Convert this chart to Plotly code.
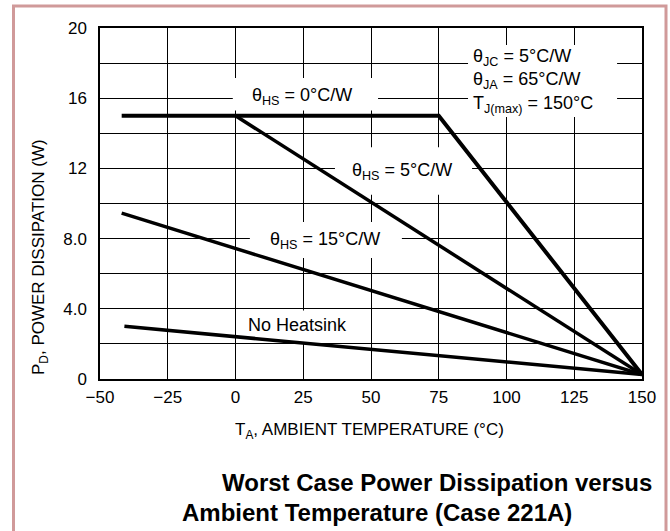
import plotly.graph_objects as go

# ---- data ----
hs0_x = [-42, 75, 150]
hs0_y = [15.0, 15.0, 0.25]
hs5_x = [0, 150]
hs5_y = [15.0, 0.25]
hs15_x = [-42, 150]
hs15_y = [9.45, 0.25]
nohs_x = [-41, 150]
nohs_y = [3.0, 0.25]

x_ticks = [-50, -25, 0, 25, 50, 75, 100, 125, 150]
y_ticks = [0, 4, 8, 12, 16, 20]
y_tick_labels = ["0", "4.0", "8.0", "12", "16", "20"]

FONT = "Liberation Sans, Arial, Helvetica, sans-serif"

fig = go.Figure()
for xs, ys, w in [(hs0_x, hs0_y, 4), (hs5_x, hs5_y, 3.5), (hs15_x, hs15_y, 3.5), (nohs_x, nohs_y, 3.5)]:
    fig.add_trace(go.Scatter(x=xs, y=ys, mode="lines", line=dict(color="black", width=w),
                             showlegend=False, hoverinfo="skip"))

W, H = 670, 531
L, R, T, B = 100, 28, 28, 152

fig.update_layout(
    width=W, height=H,
    margin=dict(l=L, r=R, t=T, b=B),
    paper_bgcolor="white", plot_bgcolor="white",
    font=dict(family=FONT, size=17, color="black"),
    showlegend=False,
)
fig.update_xaxes(range=[-50, 150], tickvals=x_ticks, showgrid=True, gridcolor="black", gridwidth=1,
                 showline=True, linecolor="black", linewidth=1.5, mirror=True, zeroline=False,
                 ticks="", ticklabelstandoff=2, tickfont=dict(size=17, family=FONT))
fig.update_yaxes(range=[0, 20], tickvals=y_ticks, ticktext=y_tick_labels, showgrid=True,
                 gridcolor="black", gridwidth=1,
                 minor=dict(dtick=2, tick0=0, showgrid=True, gridcolor="black", gridwidth=1),
                 showline=True, linecolor="black", linewidth=1.5, mirror=True, zeroline=False,
                 ticks="", ticklabelstandoff=8, tickfont=dict(size=17, family=FONT))

def lab(text, x, y, box, align="center", xanchor="center"):
    x0, x1, y0, y1 = box
    fig.add_shape(type="rect", xref="x", yref="y", x0=x0, x1=x1, y0=y0, y1=y1,
                  fillcolor="white", line=dict(width=0), layer="between")
    fig.add_annotation(x=x, y=y, xref="x", yref="y", text=text, showarrow=False,
                       align=align, xanchor=xanchor, yanchor="middle",
                       font=dict(family=FONT, size=18, color="black"))

lab("θ<sub>HS</sub> = 0°C/W", 24.5, 16.1, (-1, 52.6, 15.3, 17.15))
lab("θ<sub>HS</sub> = 5°C/W", 61.5, 11.8, (36.7, 87.3, 10.5, 13.2))
lab("θ<sub>HS</sub> = 15°C/W", 33.0, 7.92, (5.3, 61.4, 6.9, 8.95))
lab("No Heatsink", 22.7, 3.1, (1.7, 45.9, 2.1, 3.9))
lab("θ<sub>JC</sub> = 5°C/W<br>θ<sub>JA</sub> = 65°C/W<br>T<sub>J(max)</sub> = 150°C",
    87.0, 17.0, (85.8, 140.8, 14.93, 19.03), align="left", xanchor="left")

def px(xp):
    return (xp - L) / (W - L - R)

def py(yp):
    return (H - B - yp) / (H - T - B)

fig.add_annotation(x=px(369), y=py(431), xref="paper", yref="paper", showarrow=False,
                   xanchor="center", yanchor="middle",
                   text="T<sub>A</sub>, AMBIENT TEMPERATURE (°C)", font=dict(family=FONT, size=17))
fig.add_annotation(x=px(40), y=py(257), xref="paper", yref="paper", showarrow=False, textangle=-90,
                   xanchor="center", yanchor="middle",
                   text="P<sub>D</sub>, POWER DISSIPATION (W)", font=dict(family=FONT, size=17))
fig.add_annotation(x=px(220), y=py(482), xref="paper", yref="paper", showarrow=False,
                   xanchor="left", yanchor="middle",
                   text="<b>Worst Case Power Dissipation versus</b>", font=dict(family=FONT, size=24))
fig.add_annotation(x=px(180), y=py(512), xref="paper", yref="paper", showarrow=False,
                   xanchor="left", yanchor="middle",
                   text="<b>Ambient Temperature (Case 221A)</b>", font=dict(family=FONT, size=24))

# outer frame
fig.add_shape(type="rect", xref="paper", yref="paper", x0=px(13.5), x1=px(666), y0=py(560), y1=py(6),
              line=dict(color="#d09a9a", width=3), layer="below")

fig.write_html("out.html", config={"displayModeBar": False},
               post_script="document.body.style.margin='0';document.body.style.padding='0';")
